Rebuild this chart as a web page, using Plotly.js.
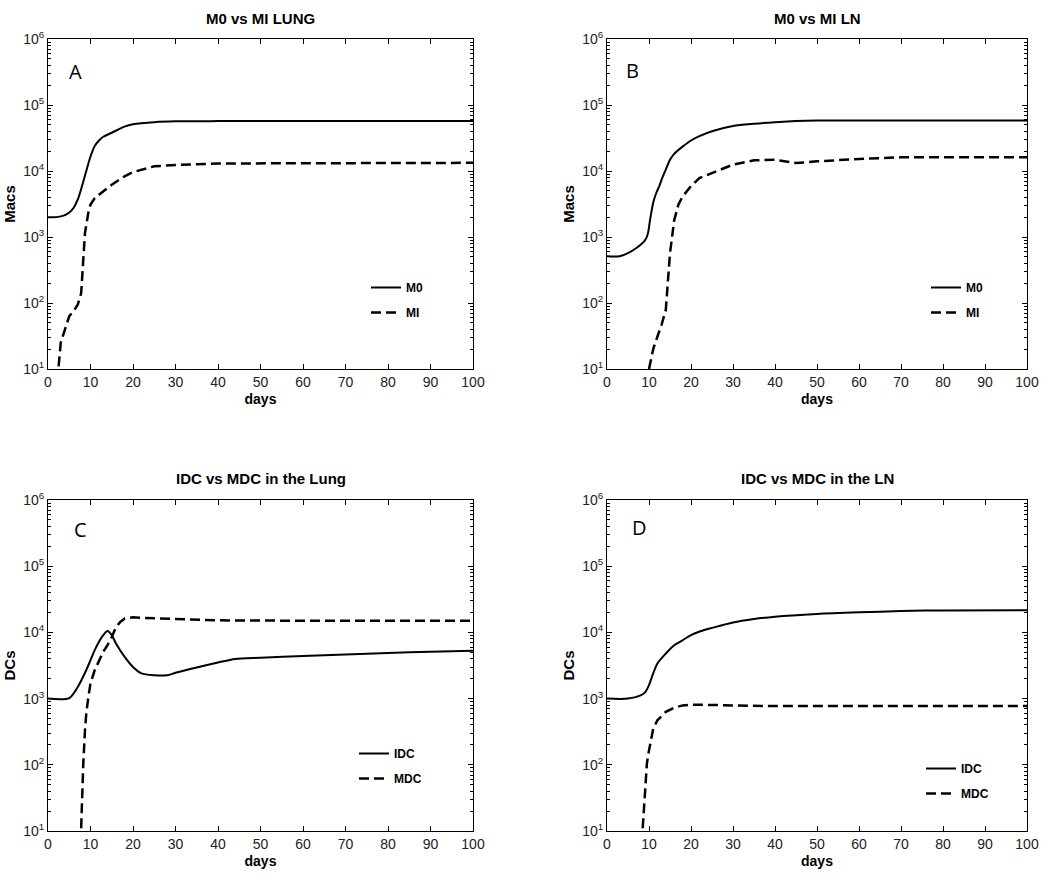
<!DOCTYPE html>
<html>
<head>
<meta charset="utf-8">
<script src="https://cdn.plot.ly/plotly-3.0.1.min.js"></script>
<style>html,body{margin:0;padding:0;background:#fff;}#chart{width:1050px;height:886px;}</style>
</head>
<body>
<div id="chart"></div>
<script>
// ---- Data ----
const panelTitles = ["M0 vs MI LUNG", "M0 vs MI LN", "IDC vs MDC in the Lung", "IDC vs MDC in the LN"];
const panelLetters = ["A", "B", "C", "D"];
const yTitles = ["Macs", "Macs", "DCs", "DCs"];
const xTitle = "days";

const aM0Days = [0,2,4,5,6,7,8,9,10,11,12,13,15,18,20,25,30,40,60,80,100];
const aM0Vals = [2000,2000,2150,2350,2750,3700,5900,10000,16600,24000,29000,33000,38000,47000,51000,55000,56500,57000,57000,57000,57000];
const aMIDays = [2.5,3,4,5,6,7,7.8,8.3,8.7,9.5,10,11,13,15,18,20,25,30,40,60,100];
const aMIVals = [11,25,40,63,75,94,140,575,1150,2350,3100,3900,4900,6200,8300,9600,11800,12300,13000,13200,13300];

const bM0Days = [0,3,5,7,9,9.7,10.3,11,11.7,12.5,13,14,15,16,18,20,22,25,30,35,40,50,60,80,100];
const bM0Vals = [510,510,570,680,880,1100,1900,3300,4600,6000,7400,10500,14800,18200,23400,29000,33700,40000,48000,52000,55000,58000,58000,58000,58000];
const bMIDays = [10,11,12,13,14,14.5,15,16,17,18,20,22,25,30,35,40,45,50,60,70,100];
const bMIVals = [10,20,31,47,79,250,570,1800,3100,4100,5900,7800,9300,12500,14500,14800,13200,14000,15200,16100,16200];

const cIDCDays = [0,5,7,9,10,11,12,13,14,15,16,18,20,22,25,28,30,35,40,44,50,60,70,80,90,100];
const cIDCVals = [1000,1020,1500,2700,3800,5400,7200,9100,10500,9100,6800,4300,3000,2400,2250,2250,2450,2950,3500,3970,4150,4400,4650,4900,5100,5300];
const cMDCDays = [7.8,8,8.3,8.7,9,9.5,10,11,12,13,14,15,16,17,18,20,25,30,40,60,100];
const cMDCVals = [11,33,104,330,590,1060,1700,2700,3800,5100,6400,8500,12000,14400,16100,16900,16300,15900,15200,15000,15000];

const dIDCDays = [0,5,8,9,10,11,12,14,16,18,20,23,25,30,35,40,50,60,70,80,100];
const dIDCVals = [1000,1000,1120,1230,1600,2400,3400,4800,6400,7600,9100,10800,11700,14100,15900,17300,19000,20100,21000,21500,21700];
const dMDCDays = [8.5,9,9.5,10,10.5,11,12,14,16,18,20,30,40,60,100];
const dMDCVals = [11,33,105,165,260,350,470,630,730,790,810,790,770,770,770];

const seriesNames = [["M0","MI"],["M0","MI"],["IDC","MDC"],["IDC","MDC"]];
const seriesDays = [[aM0Days,aMIDays],[bM0Days,bMIDays],[cIDCDays,cMDCDays],[dIDCDays,dMDCDays]];
const seriesVals = [[aM0Vals,aMIVals],[bM0Vals,bMIVals],[cIDCVals,cMDCVals],[dIDCVals,dMDCVals]];

const yTickVals = [10,100,1000,10000,100000,1000000];
const yTickText = ["10<sup>1</sup>","10<sup>2</sup>","10<sup>3</sup>","10<sup>4</sup>","10<sup>5</sup>","10<sup>6</sup>"];
const xTickVals = [0,10,20,30,40,50,60,70,80,90,100];

// ---- Layout helpers ----
const W = 1050, H = 886;
const px = v => v / W;
const py = v => 1 - v / H;
const boxes = [
  {l:48, r:473, t:39, b:369},
  {l:607, r:1027, t:39, b:369},
  {l:48, r:473, t:500, b:831},
  {l:607, r:1027, t:500, b:831}
];
const legendPos = [
  {x:366, y:273}, {x:926, y:273}, {x:354, y:739}, {x:921, y:754}
];
const letterPos = [{x:75,y:71},{x:632,y:70},{x:80,y:529},{x:639,y:527}];

const minorVals = [];
for (let d = 1; d < 6; d++) for (let k = 2; k <= 9; k++) minorVals.push(k * Math.pow(10, d));

const FONT = "Liberation Sans, Arial, sans-serif";
const traces = [];
const layout = {
  width: W, height: H,
  margin: {l:0, r:0, t:0, b:0},
  paper_bgcolor: "#fff", plot_bgcolor: "#fff",
  font: {family: FONT, color: "#000"},
  showlegend: true,
  annotations: []
};

for (let i = 0; i < 4; i++) {
  const n = i === 0 ? "" : String(i + 1);
  const bx = boxes[i];
  const legName = i === 0 ? "legend" : "legend" + (i + 1);
  for (let s = 0; s < 2; s++) {
    traces.push({
      type: "scatter", mode: "lines",
      x: seriesDays[i][s], y: seriesVals[i][s],
      name: seriesNames[i][s],
      xaxis: "x" + n, yaxis: "y" + n,
      legend: legName,
      legendgroup: "g" + i + s,
      line: s === 0
        ? {color: "#000", width: 2, dash: "solid", shape: "spline", smoothing: 0.8}
        : {color: "#000", width: 2.5, dash: "10px,5px", shape: "linear"},
      hoverinfo: "skip"
    });
  }
  layout["xaxis" + n] = {
    domain: [px(bx.l), px(bx.r)],
    anchor: "y" + n,
    range: [0, 100],
    tickmode: "array", tickvals: xTickVals,
    ticks: "inside", ticklen: 5, tickwidth: 1, tickcolor: "#000",
    showline: true, linecolor: "#000", linewidth: 1, mirror: "ticks",
    showgrid: false, zeroline: false,
    tickfont: {size: 14, family: FONT, color: "#222"},
    title: {text: "<b>" + xTitle + "</b>", font: {size: 14, family: FONT}, standoff: 5}
  };
  layout["yaxis" + n] = {
    domain: [py(bx.b), py(bx.t)],
    anchor: "x" + n,
    type: "log",
    range: [1, 6],
    tickmode: "array", tickvals: yTickVals, ticktext: yTickText,
    ticks: "inside", ticklen: 5, tickwidth: 1, tickcolor: "#000",
    minor: {tickmode: "array", tickvals: minorVals, ticks: "inside", ticklen: 3, tickwidth: 1, tickcolor: "#000", showgrid: false},
    showline: true, linecolor: "#000", linewidth: 1, mirror: "ticks",
    showgrid: false, zeroline: false,
    tickfont: {size: 14, family: FONT, color: "#222"},
    title: {text: "<b>" + yTitles[i] + "</b>", font: {size: 15, family: FONT}, standoff: 3}
  };
  layout[legName] = {
    x: px(legendPos[i].x), y: py(legendPos[i].y),
    xanchor: "left", yanchor: "top",
    bgcolor: "rgba(0,0,0,0)", borderwidth: 0,
    font: {size: 12, family: FONT, color: "#000", weight: "bold"},
    traceorder: "grouped", tracegroupgap: 6
  };
  layout.annotations.push({
    text: "<b>" + panelTitles[i] + "</b>",
    xref: "paper", yref: "paper",
    x: px((bx.l + bx.r) / 2), y: py(bx.t - 21),
    xanchor: "center", yanchor: "middle",
    showarrow: false, font: {size: 15, family: FONT, color: "#000"}
  });
  layout.annotations.push({
    text: panelLetters[i],
    xref: "paper", yref: "paper",
    x: px(letterPos[i].x), y: py(letterPos[i].y),
    xanchor: "center", yanchor: "middle",
    showarrow: false, font: {size: 20, family: "Open Sans, Liberation Sans, sans-serif", color: "#000"}
  });
}

Plotly.newPlot("chart", traces, layout, {displayModeBar: false, staticPlot: true});
</script>
</body>
</html>
